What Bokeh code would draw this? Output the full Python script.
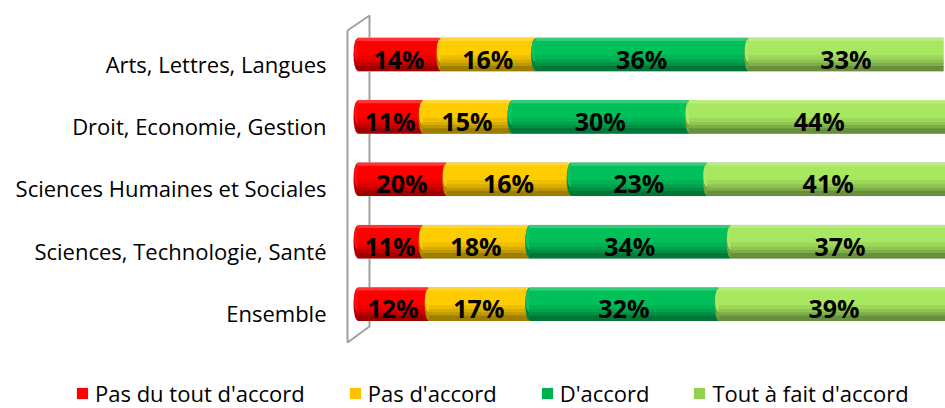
from bokeh.plotting import figure
from bokeh.models import ColumnDataSource, Legend, LegendItem, Range1d
from bokeh.core.properties import value
from bokeh.embed import file_html
from bokeh.resources import INLINE

# ---------------- data ----------------
categories = ["Arts, Lettres, Langues", "Droit, Economie, Gestion",
              "Sciences Humaines et Sociales", "Sciences, Technologie, Santé",
              "Ensemble"]
series_names = ["Pas du tout d'accord", "Pas d'accord", "D'accord",
                "Tout à fait d'accord"]
# bar lengths as drawn in the picture (%)
pas_du_tout = [14, 11, 15, 11, 12]
pas_accord = [16, 15, 21, 18, 17]
accord = [36, 30, 23, 34, 32]
tout_a_fait = [33, 44, 41, 37, 39]
series_values = [pas_du_tout, pas_accord, accord, tout_a_fait]
# data labels as printed on the bars
pas_du_tout_labels = ["14%", "11%", "20%", "11%", "12%"]
pas_accord_labels = ["16%", "15%", "16%", "18%", "17%"]
accord_labels = ["36%", "30%", "23%", "34%", "32%"]
tout_a_fait_labels = ["33%", "44%", "41%", "37%", "39%"]
series_labels = [pas_du_tout_labels, pas_accord_labels, accord_labels,
                 tout_a_fait_labels]

# ---------------- styling ----------------
bar_rgb = [(255, 0, 0), (255, 204, 0), (0, 192, 90), (168, 232, 96)]
legend_colors = ["#FF0000", "#FFC000", "#00B050", "#92D050"]
# (top fraction, bottom fraction, brightness factor, white blend)
shade_profile = [(0.00, 0.10, 1.00, 0.20), (0.10, 0.55, 1.00, 0.0),
                 (0.55, 0.68, 0.93, 0.0), (0.68, 0.78, 0.85, 0.0),
                 (0.78, 0.88, 0.75, 0.0), (0.88, 1.00, 0.62, 0.0)]


def shade(rgb, f, w):
    r, g, b = [min(255, c * f) for c in rgb]
    r, g, b = [c + (255 - c) * w for c in (r, g, b)]
    return "#%02x%02x%02x" % (int(r), int(g), int(b))


W, H = 945, 408
PX_PER_PCT = 5.92
ZERO_PX = 357            # screen x of 0 %
ROW_PX = 62.4            # screen distance between bars
TOP_ROW_PX = 54          # screen y of the first bar centre
BAR_H = 32 / ROW_PX

X0 = -ZERO_PX / PX_PER_PCT
X1 = (W - ZERO_PX) / PX_PER_PCT
n = len(categories)
Y1 = (n - 1) + TOP_ROW_PX / ROW_PX
Y0 = Y1 - H / ROW_PX


def px2x(px):
    return X0 + px / PX_PER_PCT


def px2y(py):
    return Y1 - py / ROW_PX


ypos = [n - 1 - i for i in range(n)]

p = figure(width=W, height=H, x_range=Range1d(X0, X1), y_range=Range1d(Y0, Y1),
           output_backend="svg", toolbar_location=None,
           x_axis_location=None, y_axis_location=None, min_border=0,
           outline_line_color=None, background_fill_color="white")
p.grid.visible = False

# 3D wall (decoration)
wall_x = [px2x(v) for v in (347, 369, 369, 347, 347)]
wall_y = [px2y(v) for v in (30, 15, 326, 342, 30)]
p.line(wall_x, wall_y, line_color="#a0a0a0", line_width=2)

# thin grey rim of each cylinder
rim = ColumnDataSource(dict(y=ypos, left=[0] * n,
                            right=[sum(v[i] for v in series_values) for i in range(n)]))
p.hbar(y="y", left="left", right="right", height=BAR_H + 0.03, source=rim,
       fill_color="#d0d0d0", line_color=None)

# stacked cylinders
lefts = [0] * n
for k, vals in enumerate(series_values):
    rights = [l + v for l, v in zip(lefts, vals)]
    rgb = bar_rgb[k]
    src = ColumnDataSource(dict(y=ypos, left=lefts, right=rights))
    # rounded left end of the cylinder
    p.ellipse(x="left", y="y", width=8, width_units="screen", height=BAR_H,
              source=src, fill_color=shade(rgb, 0.7, 0), line_color=None)
    cap = ColumnDataSource(dict(y=[y + BAR_H * 0.12 for y in ypos], left=lefts))
    p.ellipse(x="left", y="y", width=7, width_units="screen", height=BAR_H * 0.72,
              source=cap, fill_color=shade(rgb, 1.0, 0.05), line_color=None)
    for (f0, f1, f, w) in shade_profile:
        ys = [y + BAR_H / 2 - (f0 + f1) / 2 * BAR_H for y in ypos]
        s = ColumnDataSource(dict(y=ys, left=lefts, right=rights))
        p.hbar(y="y", left="left", right="right", height=BAR_H * (f1 - f0) + 0.025,
               source=s, fill_color=shade(rgb, f, w), line_color=None)
    mids = [(l + r) / 2 for l, r in zip(lefts, rights)]
    lab = ColumnDataSource(dict(x=mids, y=ypos, t=series_labels[k]))
    p.text(x="x", y="y", text="t", source=lab, text_align="center",
           text_baseline="middle", y_offset=4, text_font=value("Open Sans"),
           text_font_style="bold", text_font_size="25px", text_color="#000000")
    lefts = rights

# category labels
cat_src = ColumnDataSource(dict(x=[0] * n, y=ypos, t=categories))
p.text(x="x", y="y", text="t", source=cat_src, x_offset=-31, y_offset=9,
       text_align="right", text_baseline="middle", text_font=value("Open Sans"),
       text_font_size="22px", text_color="#000000")

# legend (swatch renderers kept outside the visible range)
items = []
for name, col in zip(series_names, legend_colors):
    r = p.hbar(y=[Y0 - 50], left=[0], right=[1], height=0.5,
               fill_color=col, line_color=None)
    items.append(LegendItem(label=name, renderers=[r]))
legend = Legend(items=items, orientation="horizontal", location=(75, 0),
                spacing=43, label_standoff=6, glyph_width=14, glyph_height=14,
                padding=0, margin=0, border_line_color=None,
                background_fill_alpha=0, label_text_font="Open Sans",
                label_text_font_size="22px", label_text_color="#000000")
p.add_layout(legend)

open("out.html", "w").write(file_html(p, INLINE))
